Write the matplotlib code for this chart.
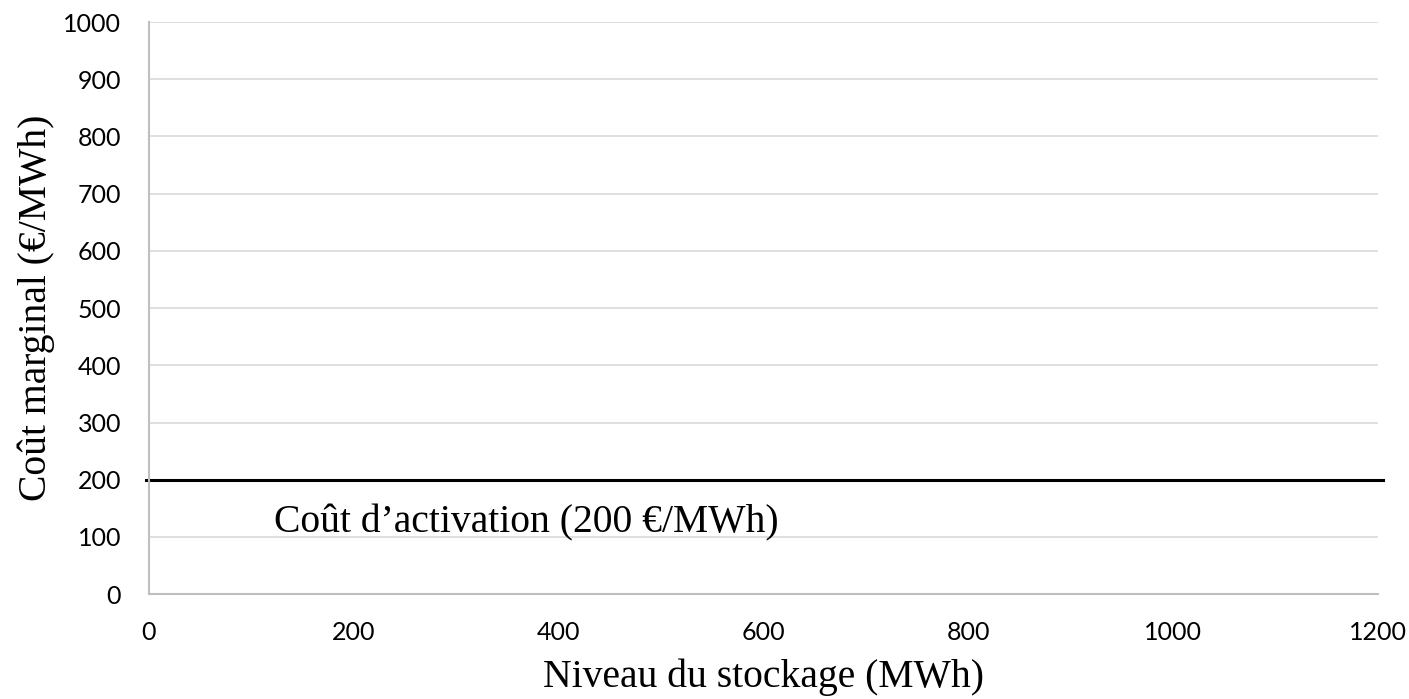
import matplotlib
matplotlib.use("Agg")
import matplotlib.pyplot as plt

# axis ranges and ticks
x_ticks = [0, 200, 400, 600, 800, 1000, 1200]
y_ticks = [0, 100, 200, 300, 400, 500, 600, 700, 800, 900, 1000]
activation_cost = 200
label_text = "Coût d’activation (200 €/MWh)"

fig = plt.figure(figsize=(14.09, 6.99), dpi=100)
ax = fig.add_axes([0.1057, 0.150, 0.8722, 0.8185])

ax.set_xlim(0, 1200)
ax.set_ylim(0, 1000)
ax.set_xticks(x_ticks)
ax.set_yticks(y_ticks)
ax.tick_params(length=0, labelsize=18)
ax.tick_params(axis="y", pad=20)
ax.tick_params(axis="x", pad=19)
for lab in ax.get_xticklabels() + ax.get_yticklabels():
    lab.set_family("Lato")

ax.grid(axis="y", color="#d9d9d9", linewidth=1.2)
ax.set_axisbelow(True)
for s in ["top", "right"]:
    ax.spines[s].set_visible(False)
for s in ["left", "bottom"]:
    ax.spines[s].set_color("#bfbfbf")
    ax.spines[s].set_linewidth(1.5)

# activation cost line (extends a bit past the plot area)
ax.axhline(activation_cost, xmin=-0.002, xmax=1.004, color="black", linewidth=2.2, clip_on=False)
ax.text(122, 108, label_text, fontsize=28.5, family="Liberation Serif", va="baseline", ha="left")

ax.set_xlabel("Niveau du stockage (MWh)", fontsize=28.5, family="Liberation Serif")
ax.xaxis.label.set_va("baseline")
ax.xaxis.set_label_coords(0.5, -0.1626)
ax.set_ylabel("Coût marginal (€/MWh)", fontsize=28.5, family="Liberation Serif")
ax.yaxis.label.set_va("center")
ax.yaxis.set_label_coords(-0.0915, 0.5)

fig.savefig("out.png", dpi=100)
